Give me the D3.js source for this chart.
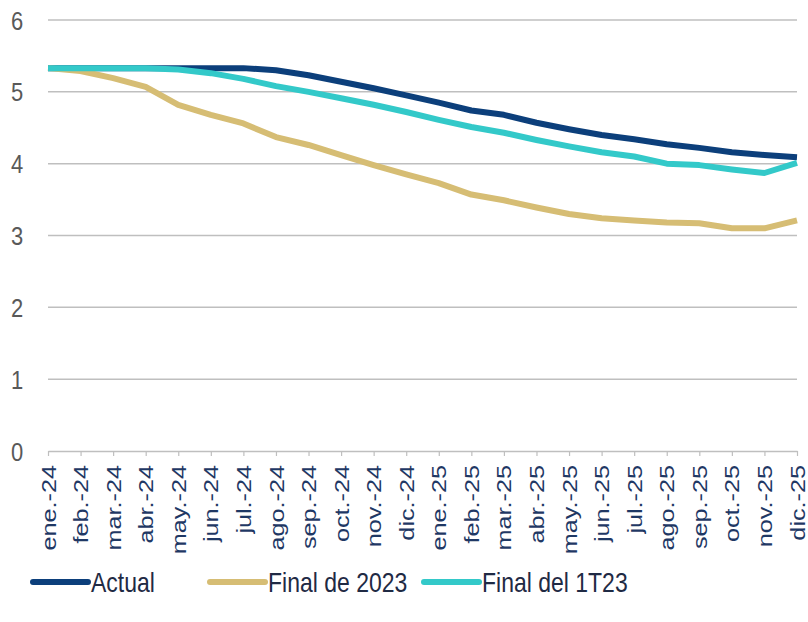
<!DOCTYPE html>
<html lang="es">
<head>
<meta charset="UTF-8">
<script src="https://d3js.org/d3.v7.min.js"></script>
<style>
  body { margin: 0; background: #fff; }
  svg { display: block; }
  text { font-family: "Liberation Sans", Arial, sans-serif; }
</style>
</head>
<body>
<svg width="808" height="622"></svg>
<script>
const months = ['ene.-24','feb.-24','mar.-24','abr.-24','may.-24','jun.-24','jul.-24','ago.-24','sep.-24','oct.-24','nov.-24','dic.-24',
                'ene.-25','feb.-25','mar.-25','abr.-25','may.-25','jun.-25','jul.-25','ago.-25','sep.-25','oct.-25','nov.-25','dic.-25'];
const actual = [5.33,5.33,5.33,5.33,5.33,5.33,5.33,5.30,5.23,5.14,5.05,4.95,4.85,4.74,4.68,4.57,4.48,4.40,4.34,4.27,4.22,4.16,4.12,4.09];
const final2023 = [5.33,5.29,5.19,5.07,4.82,4.68,4.56,4.37,4.26,4.12,3.98,3.85,3.73,3.57,3.49,3.39,3.30,3.24,3.21,3.18,3.17,3.10,3.10,3.21];
const final1T23 = [5.33,5.33,5.33,5.33,5.31,5.26,5.18,5.08,5.00,4.91,4.82,4.72,4.61,4.51,4.43,4.33,4.24,4.16,4.10,4.00,3.98,3.92,3.87,4.01];
const yTicks = [0,1,2,3,4,5,6];

const series = [
  {name: 'Actual', values: actual, color: '#0c3f7b'},
  {name: 'Final de 2023', values: final2023, color: '#d6bd74'},
  {name: 'Final del 1T23', values: final1T23, color: '#33c9c9'}
];

const svg = d3.select('svg');
const plotL = 48, plotR = 797, plotT = 20, plotB = 451;
const stretch = 1.2; // text in the original looks vertically stretched

const x = d3.scalePoint().domain(months).range([plotL, plotR]);
const y = d3.scaleLinear().domain([0, 6]).range([plotB, plotT]);

// gridlines
svg.append('g')
  .selectAll('line')
  .data(yTicks.filter(d => d > 0))
  .enter().append('line')
  .attr('x1', plotL).attr('x2', plotR)
  .attr('y1', d => y(d)).attr('y2', d => y(d))
  .attr('stroke', '#bfbfbf')
  .attr('stroke-width', 1.5);

// y labels
svg.append('g')
  .selectAll('text')
  .data(yTicks)
  .enter().append('text')
  .attr('transform', d => `translate(17,${y(d)}) scale(1,${stretch})`)
  .attr('text-anchor', 'middle')
  .attr('dy', '0.36em')
  .attr('font-size', 22)
  .attr('fill', '#595959')
  .text(d => d);

// x axis
const xAxis = svg.append('g')
  .attr('transform', `translate(0,${plotB})`)
  .call(d3.axisBottom(x).tickSize(5).tickSizeOuter(0).tickFormat(''));
xAxis.select('.domain').attr('stroke', '#bfbfbf').attr('stroke-width', 1.5);
xAxis.selectAll('.tick line').attr('stroke', '#bfbfbf').attr('stroke-width', 1.2);

svg.append('g')
  .selectAll('text')
  .data(months)
  .enter().append('text')
  .attr('transform', d => `translate(${x(d)},465) scale(1,${stretch}) rotate(-90)`)
  .attr('text-anchor', 'end')
  .attr('dy', '0.36em')
  .attr('font-size', 21)
  .attr('fill', '#1f3864')
  .text(d => d);

// lines
const line = d3.line()
  .x((d, i) => x(months[i]))
  .y(d => y(d));

svg.append('g')
  .selectAll('path')
  .data(series)
  .enter().append('path')
  .attr('d', d => line(d.values))
  .attr('fill', 'none')
  .attr('stroke', d => d.color)
  .attr('stroke-width', 6)
  .attr('stroke-linejoin', 'round');

// legend
const legendX = [33, 210, 424];
const legend = svg.append('g')
  .selectAll('g')
  .data(series)
  .enter().append('g')
  .attr('transform', (d, i) => `translate(${legendX[i]},582)`);
legend.append('line')
  .attr('x1', 0).attr('x2', 55)
  .attr('stroke', d => d.color)
  .attr('stroke-width', 6)
  .attr('stroke-linecap', 'round');
legend.append('text')
  .attr('transform', `translate(58,0) scale(1,${stretch})`)
  .attr('dy', '0.36em')
  .attr('font-size', 23)
  .attr('fill', '#1f2a44')
  .text(d => d.name);
</script>
</body>
</html>
